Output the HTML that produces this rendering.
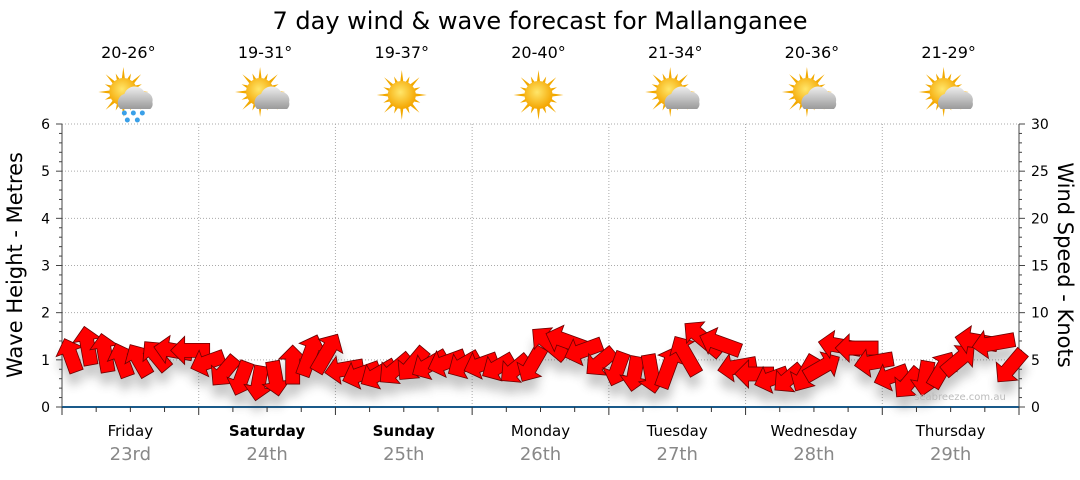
<!DOCTYPE html>
<html><head><meta charset="utf-8">
<style>
body{margin:0;background:#fff;font-family:"Liberation Sans","DejaVu Sans",sans-serif}
svg text{font-family:"DejaVu Sans","Liberation Sans",sans-serif}
</style></head>
<body>
<svg id="chart" width="1080" height="475" viewBox="0 0 1080 475">
<defs>
<filter id="sh" x="-50%" y="-50%" width="200%" height="200%"><feGaussianBlur stdDeviation="5"/></filter>
<radialGradient id="sun" cx="45%" cy="40%" r="60%"><stop offset="0" stop-color="#ffe66a"/><stop offset="1" stop-color="#f4a500"/></radialGradient>
<linearGradient id="cloud" x1="0" y1="0" x2="0" y2="1"><stop offset="0" stop-color="#eee"/><stop offset="1" stop-color="#9a9a9a"/></linearGradient>
</defs>
<text x="540" y="29" text-anchor="middle" font-size="24" fill="#000">7 day wind &amp; wave forecast for Mallanganee</text>
<g id="grid"></g>
<g id="axes"></g>
<g id="icons"></g>
<g id="shadow" filter="url(#sh)" opacity="0.3"></g>
<g id="arrows"></g>
<text x="960" y="400" text-anchor="middle" font-size="10" fill="#bbb">seabreeze.com.au</text>
<text transform="translate(22,265) rotate(-90)" text-anchor="middle" font-size="21" fill="#000">Wave Height - Metres</text>
<text transform="translate(1058,265) rotate(90)" text-anchor="middle" font-size="21" fill="#000">Wind Speed - Knots</text>
</svg>
<script>
const days=["Friday","Saturday","Sunday","Monday","Tuesday","Wednesday","Thursday"];
const dates=["23rd","24th","25th","26th","27th","28th","29th"];
const boldDays=[false,true,true,false,false,false,false];
const temps=["20-26°","19-31°","19-37°","20-40°","21-34°","20-36°","21-29°"];
const icons=["rain","cloud","sun","sun","cloud","cloud","cloud"];
const leftTicks=[0,1,2,3,4,5,6];
const rightTicks=[0,5,10,15,20,25,30];
const waveHeight=[1.1,1.3,1.15,1.0,1.0,1.1,1.2,1.2,
 0.95,0.75,0.6,0.5,0.6,0.9,1.1,1.15,
 0.8,0.7,0.7,0.8,0.9,0.9,0.95,0.9,
 0.9,0.85,0.8,0.9,1.35,1.4,1.2,0.95,
 0.8,0.7,0.7,0.85,1.1,1.45,1.35,0.85,
 0.7,0.6,0.6,0.7,0.85,1.3,1.25,0.95,
 0.65,0.5,0.6,0.8,1.0,1.4,1.35,0.85];
const windSpeed=[9,10,10,9,9,9,10,10, 9,9,9,9,9,10,11,11, 10,10,10,10,10,10,10,9, 9,9,9,10,11,11,10,9, 9,9,10,11,11,12,11,10, 10,9,9,10,10,11,11,10, 9,9,9,10,10,11,11,10];
const windAngle=[110,100,100,110,120,130,170,180, 200,230,250,260,280,90,70,60, 190,200,210,220,230,210,200,210, 200,210,220,240,140,160,200,220, 250,260,280,70,120,140,160,190, 180,200,220,240,30,170,180,190, 200,230,260,60,40,170,190,230];

const X0=62,X1=1019,Y0=407,Y1=124;
const dayW=(X1-X0)/7;
const yL=v=>Y0-(v/6)*(Y0-Y1);
const yR=v=>Y0-(v/30)*(Y0-Y1);
const xT=i=>X0+(i+0.5)*dayW/8;
const NS="http://www.w3.org/2000/svg";
function mk(tag,attrs,parent,txt){const e=document.createElementNS(NS,tag);for(const k in attrs)e.setAttribute(k,attrs[k]);if(txt!==undefined)e.textContent=txt;document.getElementById(parent).appendChild(e);return e;}

leftTicks.forEach(v=>{if(v>0){const l=mk("line",{x1:X0,x2:X1,y1:yL(v),y2:yL(v),stroke:"#aaa","stroke-dasharray":"1,2"},"grid");

}});
for(let d=1;d<7;d++){const l=mk("line",{x1:X0+d*dayW,x2:X0+d*dayW,y1:Y1,y2:Y0,stroke:"#aaa","stroke-dasharray":"1,2"},"grid");

}
mk("line",{x1:X0,x2:X0,y1:Y1,y2:Y0,stroke:"#444"},"axes");
mk("line",{x1:X1,x2:X1,y1:Y1,y2:Y0,stroke:"#444"},"axes");
mk("line",{x1:X0,x2:X1,y1:Y0,y2:Y0,stroke:"#1a5a8a","stroke-width":2},"axes");
leftTicks.forEach(v=>{const y=yL(v);mk("line",{x1:X0-6,x2:X0,y1:y,y2:y,stroke:"#444"},"axes");
for(let m=1;m<5&&v<6;m++){const ym=yL(v+m*0.2);mk("line",{x1:X0-3,x2:X0,y1:ym,y2:ym,stroke:"#444"},"axes");}
const t=mk("text",{x:X0-12,y:y+5,"text-anchor":"end","font-size":14},"axes",String(v));

});
rightTicks.forEach(v=>{const y=yR(v);mk("line",{x1:X1,x2:X1+6,y1:y,y2:y,stroke:"#444"},"axes");
for(let m=1;m<5&&v<30;m++){const ym=yR(v+m);mk("line",{x1:X1,x2:X1+3,y1:ym,y2:ym,stroke:"#444"},"axes");}
const t=mk("text",{x:X1+12,y:y+5,"font-size":14},"axes",String(v));

});
for(let d=0;d<=7;d++){const x=X0+d*dayW;mk("line",{x1:x,x2:x,y1:Y0,y2:Y0+8,stroke:"#333"},"axes");
if(d<7)for(let m=1;m<4;m++){const xm=x+m*dayW/4;mk("line",{x1:xm,x2:xm,y1:Y0,y2:Y0+5,stroke:"#333"},"axes");}}
days.forEach((d,i)=>{const cx=X0+(i+0.5)*dayW;
const t=mk("text",{x:cx,y:436,"text-anchor":"middle","font-size":15,"font-weight":boldDays[i]?"bold":"normal"},"axes",d);


const t2=mk("text",{x:cx,y:460,"text-anchor":"middle","font-size":18,fill:"#888"},"axes",dates[i]);


const t3=mk("text",{x:cx-2,y:58,"text-anchor":"middle","font-size":16},"icons",temps[i]);


const g=mk("g",{transform:`translate(${cx-2},95)`},"icons");


let rays="";for(let k=0;k<16;k++){const a=k*Math.PI/8,r1=13,r2=k%2?20:25;const a1=a-0.12,a2=a+0.12;
rays+=`<polygon points="${(r1*Math.cos(a1)).toFixed(1)},${(r1*Math.sin(a1)).toFixed(1)} ${(r2*Math.cos(a)).toFixed(1)},${(r2*Math.sin(a)).toFixed(1)} ${(r1*Math.cos(a2)).toFixed(1)},${(r1*Math.sin(a2)).toFixed(1)}" fill="#f2a900"/>`;}
let html;
if(icons[i]==="sun"){html=rays+`<circle r="14" fill="url(#sun)"/>`;}
else{html=`<g transform="translate(-5,-3)">${rays}<circle r="14" fill="url(#sun)"/></g>
<path d="M-8,14 a9,9 0 0 1 4,-15 a11,11 0 0 1 20,-2 a8,8 0 0 1 8,10 a7,7 0 0 1 -2,7 z" fill="url(#cloud)"/>`;
if(icons[i]==="rain")html+=`<g fill="#3aa0e8"><circle cx="-4" cy="18" r="2.5"/><circle cx="5" cy="18" r="2.5"/><circle cx="14" cy="18" r="2.5"/><circle cx="-1" cy="25" r="2.5"/><circle cx="9" cy="25" r="2.5"/></g>`;}
g.innerHTML=html;});

const arrowPts=s=>{const L=s*3.9,hw=7,HW=14,HL=14;return `${-L/2},${-hw} ${L/2-HL},${-hw} ${L/2-HL},${-HW} ${L/2},0 ${L/2-HL},${HW} ${L/2-HL},${hw} ${-L/2},${hw}`;};
waveHeight.forEach((h,i)=>{const x=xT(i),y=yL(h);
const s=mk("polygon",{points:arrowPts(windSpeed[i]),transform:`translate(${x},${y+12}) rotate(${-windAngle[i]})`,fill:"#444"},"shadow");


const a=mk("polygon",{points:arrowPts(windSpeed[i]),transform:`translate(${x},${y}) rotate(${-windAngle[i]})`,fill:"#ff0000",stroke:"#6a0000","stroke-width":0.8},"arrows");

});
</script>
</body></html>
